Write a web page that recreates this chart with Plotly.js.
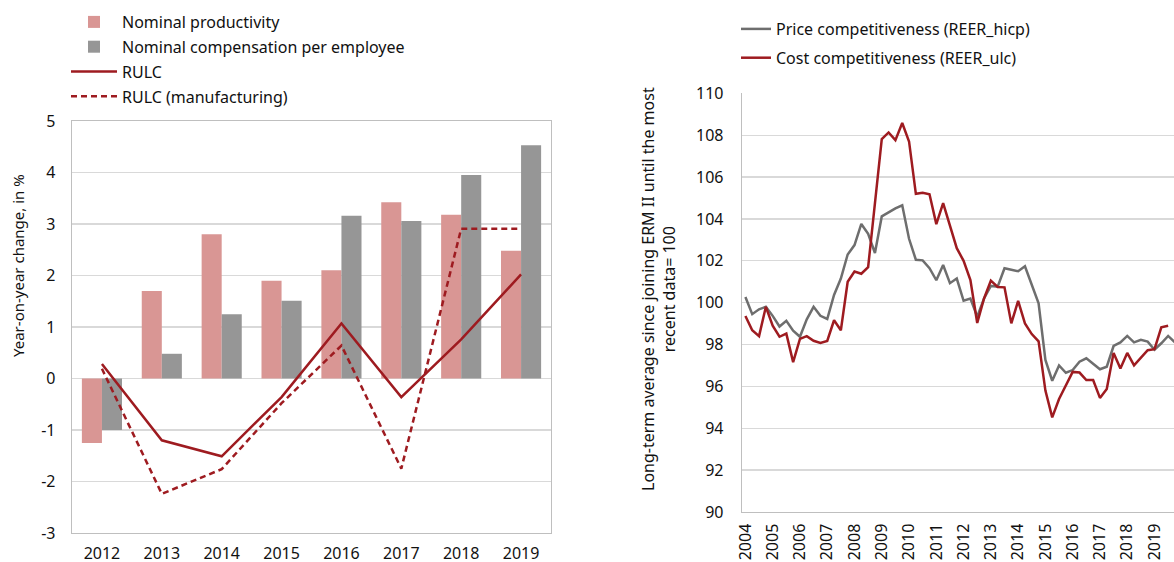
<!DOCTYPE html>
<html>
<head>
<meta charset="utf-8">
<script src="https://cdn.plot.ly/plotly-3.0.1.min.js"></script>
<style>
  html, body { margin: 0; padding: 0; background: #ffffff; }
  #chart { width: 1174px; height: 562px; }
</style>
</head>
<body>
<div id="chart"></div>
<script>
// ---------- Left chart data (year-on-year change, %) ----------
const years = ['2012', '2013', '2014', '2015', '2016', '2017', '2018', '2019'];
const nominalProductivity = [-1.25, 1.70, 2.80, 1.90, 2.10, 3.42, 3.18, 2.48];
const nominalCompensation = [-1.00, 0.48, 1.25, 1.51, 3.16, 3.06, 3.95, 4.53];
const rulc = [0.28, -1.20, -1.51, -0.36, 1.07, -0.36, 0.76, 2.02];
const rulcManufacturing = [0.19, -2.24, -1.76, -0.48, 0.64, -1.75, 2.91, 2.91];
const leftTickVals = [-3, -2, -1, 0, 1, 2, 3, 4, 5];
const leftTickText = ['-3', '-2', '-1', '0', '1', '2', '3', '4', '5'];

// ---------- Right chart data (quarterly, index) ----------
const reerYears = ['2004','2005','2006','2007','2008','2009','2010','2011',
                   '2012','2013','2014','2015','2016','2017','2018','2019'];
const quarterNames = ['Q1', 'Q2', 'Q3', 'Q4'];
const priceCompetitiveness = [
  100.27, 99.45, 99.68, 99.80, 99.37, 98.86, 99.13, 98.66,
  98.37, 99.20, 99.80, 99.37, 99.22, 100.37, 101.15, 102.30,
  102.75, 103.76, 103.29, 102.37, 104.12, 104.32, 104.50, 104.65,
  103.05, 102.05, 102.02, 101.65, 101.07, 101.80, 100.93, 101.15,
  100.09, 100.20, 99.33, 100.20, 100.80, 100.76, 101.64, 101.57,
  101.50, 101.74, 100.85, 99.97, 97.26, 96.27, 97.00, 96.65,
  96.78, 97.18, 97.34, 97.07, 96.82, 96.94, 97.93, 98.10,
  98.41, 98.10, 98.22, 98.14, 97.75, 98.06, 98.41, 98.10
];
const costCompetitiveness = [
  99.36, 98.68, 98.40, 99.80, 98.90, 98.37, 98.52, 97.16,
  98.27, 98.40, 98.18, 98.08, 98.17, 99.16, 98.68, 101.00,
  101.49, 101.38, 101.70, 104.75, 107.81, 108.13, 107.76, 108.58,
  107.70, 105.20, 105.25, 105.18, 103.75, 104.75, 103.68, 102.60,
  102.00, 101.08, 99.03, 100.20, 101.05, 100.75, 100.73, 99.01,
  100.08, 99.01, 98.50, 98.15, 95.80, 94.52, 95.40, 96.06,
  96.69, 96.66, 96.30, 96.30, 95.45, 95.88, 97.60, 96.85,
  97.60, 97.00, 97.35, 97.73, 97.78, 98.82, 98.90, null
];

// quarter categories built from the year list
const quarters = [];
reerYears.forEach(y => quarterNames.forEach(q => quarters.push(y + ' ' + q)));
const yearTickVals = reerYears.map(y => y + ' Q1');

const W = 1174, H = 562;
const px = v => v / W;
const py = v => (H - v) / H;

const FONT = 'Noto Sans, Open Sans, sans-serif';
const darkRed = '#9e1b20';
const pink = '#d99694';
const barGray = '#969696';
const lineGray = '#6e6e6e';
const gridCol = '#d9d9d9';
const axisCol = '#bfbfbf';
const textCol = '#111111';

const traces = [
  {
    type: 'bar', name: 'Nominal productivity', x: years, y: nominalProductivity,
    marker: { color: pink }, xaxis: 'x', yaxis: 'y', legend: 'legend', legendgroup: 'a'
  },
  {
    type: 'bar', name: 'Nominal compensation per employee', x: years, y: nominalCompensation,
    marker: { color: barGray }, xaxis: 'x', yaxis: 'y', legend: 'legend', legendgroup: 'b'
  },
  {
    type: 'scatter', mode: 'lines', name: 'RULC', x: years, y: rulc,
    line: { color: darkRed, width: 2.5 }, xaxis: 'x', yaxis: 'y', legend: 'legend', legendgroup: 'c'
  },
  {
    type: 'scatter', mode: 'lines', name: 'RULC (manufacturing)', x: years, y: rulcManufacturing,
    line: { color: darkRed, width: 2.5, dash: '6px,4px' }, xaxis: 'x', yaxis: 'y',
    legend: 'legend', legendgroup: 'd'
  },
  {
    type: 'scatter', mode: 'lines', name: 'Price competitiveness (REER_hicp)',
    x: quarters, y: priceCompetitiveness,
    line: { color: lineGray, width: 2.5 }, xaxis: 'x2', yaxis: 'y2', legend: 'legend2', legendgroup: 'e'
  },
  {
    type: 'scatter', mode: 'lines', name: 'Cost competitiveness (REER_ulc)',
    x: quarters, y: costCompetitiveness,
    line: { color: darkRed, width: 2.5 }, xaxis: 'x2', yaxis: 'y2', legend: 'legend2', legendgroup: 'f'
  }
];

const tickFont = { family: FONT, size: 16, color: textCol };

const layout = {
  width: W, height: H,
  margin: { l: 0, r: 0, t: 0, b: 0, pad: 0 },
  paper_bgcolor: '#ffffff', plot_bgcolor: '#ffffff',
  font: { family: FONT, size: 16, color: textCol },
  barmode: 'group', bargap: 0.33, bargroupgap: 0,
  showlegend: true,
  xaxis: {
    domain: [px(72), px(551)], anchor: 'y',
    type: 'category', range: [-0.5, 7.5],
    showgrid: false, showline: true, linecolor: axisCol, linewidth: 1.3, mirror: true,
    ticks: '', tickfont: tickFont, ticklabelstandoff: 5, fixedrange: true
  },
  yaxis: {
    domain: [py(533), py(121)], anchor: 'x',
    range: [-3, 5], tickmode: 'array', tickvals: leftTickVals, ticktext: leftTickText,
    showgrid: true, gridcolor: gridCol, gridwidth: 1.3,
    zeroline: true, zerolinecolor: gridCol, zerolinewidth: 1.3,
    showline: true, linecolor: axisCol, linewidth: 1.3, mirror: true,
    ticks: '', tickfont: tickFont, ticklabelstandoff: 12, fixedrange: true
  },
  xaxis2: {
    domain: [px(742), 1], anchor: 'y2',
    type: 'category', range: [-0.5, 62.86],
    tickmode: 'array', tickvals: yearTickVals, ticktext: reerYears, tickangle: -90,
    showgrid: false, showline: true, linecolor: axisCol, linewidth: 1.3,
    ticks: '', tickfont: tickFont, ticklabelstandoff: 4, fixedrange: true
  },
  yaxis2: {
    domain: [py(512), py(93.3)], anchor: 'x2',
    range: [90, 110], dtick: 2, tick0: 90,
    showgrid: true, gridcolor: gridCol, gridwidth: 1.3, zeroline: false,
    showline: true, linecolor: axisCol, linewidth: 1.3,
    ticks: '', tickfont: tickFont, ticklabelstandoff: 14, fixedrange: true
  },
  legend: {
    x: px(66), y: py(5), xanchor: 'left', yanchor: 'top',
    orientation: 'v', traceorder: 'grouped', itemwidth: 46,
    font: { family: FONT, size: 16, color: textCol },
    bgcolor: 'rgba(0,0,0,0)', tracegroupgap: 1
  },
  legend2: {
    x: px(736), y: py(12), xanchor: 'left', yanchor: 'top',
    orientation: 'v', traceorder: 'grouped',
    font: { family: FONT, size: 16, color: textCol },
    bgcolor: 'rgba(0,0,0,0)', tracegroupgap: 5
  },
  annotations: [
    {
      text: 'Year-on-year change, in %', textangle: -90,
      xref: 'paper', yref: 'paper', x: px(18), y: py(266),
      xanchor: 'center', yanchor: 'middle', showarrow: false,
      font: { family: FONT, size: 15, color: textCol }
    },
    {
      text: 'Long-term average since joining ERM II until the most<br>recent data= 100', textangle: -90,
      xref: 'paper', yref: 'paper', x: px(658), y: py(289),
      xanchor: 'center', yanchor: 'middle', showarrow: false, align: 'center',
      font: { family: FONT, size: 16, color: textCol }
    }
  ]
};

Plotly.newPlot('chart', traces, layout, { staticPlot: true, displayModeBar: false });
</script>
</body>
</html>
